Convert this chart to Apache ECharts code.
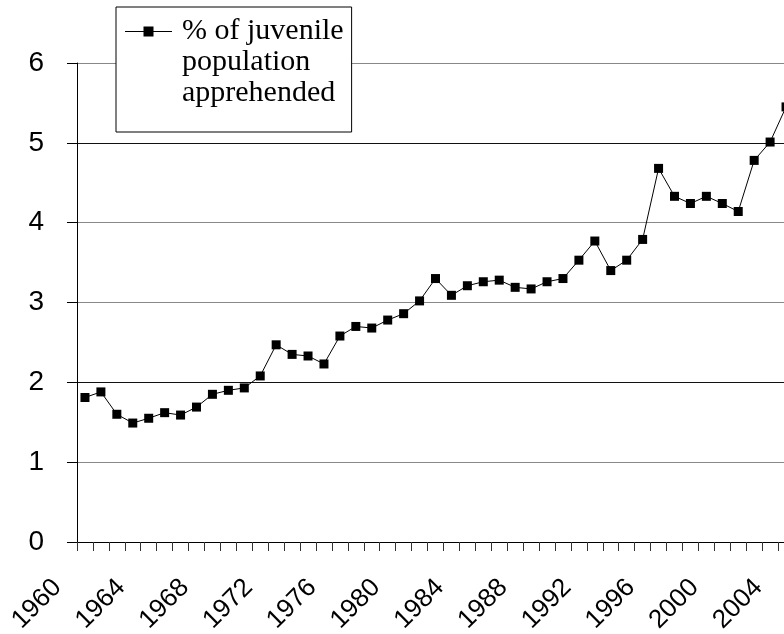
<!DOCTYPE html>
<html>
<head>
<meta charset="utf-8">
<script src="https://cdn.jsdelivr.net/npm/echarts@6/dist/echarts.min.js"></script>
<style>
  html, body { margin: 0; padding: 0; background: #fff; }
  #chart { width: 784px; height: 634px; }
</style>
</head>
<body>
<div id="chart"></div>
<script>
const SERIES_NAME = '% of juvenile\npopulation\napprehended';

const years = [
  '1960', '1961', '1962', '1963', '1964', '1965', '1966', '1967', '1968', '1969',
  '1970', '1971', '1972', '1973', '1974', '1975', '1976', '1977', '1978', '1979',
  '1980', '1981', '1982', '1983', '1984', '1985', '1986', '1987', '1988', '1989',
  '1990', '1991', '1992', '1993', '1994', '1995', '1996', '1997', '1998', '1999',
  '2000', '2001', '2002', '2003', '2004',
];
const apprehended = [
  1.81, 1.88, 1.60, 1.49, 1.55, 1.62, 1.59, 1.69, 1.85, 1.90,
  1.93, 2.08, 2.47, 2.35, 2.33, 2.23, 2.58, 2.70, 2.68, 2.78,
  2.86, 3.02, 3.30, 3.09, 3.21, 3.26, 3.28, 3.19, 3.17, 3.26,
  3.30, 3.53, 3.77, 3.40, 3.53, 3.79, 4.68, 4.33, 4.24, 4.33,
  4.24, 4.14, 4.78, 5.01, 5.45,
];
const yTicks = [0, 1, 2, 3, 4, 5, 6];

// line + square at the first text row, tiny dots keep the box 52x93
const legendIcon = 'path://M0,15L47,15L47,16L0,16Z M18.5,10.5L28.5,10.5L28.5,20.5L18.5,20.5Z M0,0L0.1,0L0.1,0.1Z M51.9,92.9L52,92.9L52,93Z';

const chart = echarts.init(document.getElementById('chart'), null, { renderer: 'canvas' });

const option = {
  animation: false,
  backgroundColor: '#fff',
  grid: {
    left: 77,
    top: 63,
    width: 717,
    height: 479,
    containLabel: false,
    outerBoundsMode: 'none',
  },
  legend: {
    data: [SERIES_NAME],
    left: 116,
    top: 7,
    orient: 'vertical',
    selectedMode: false,
    icon: legendIcon,
    itemWidth: 52,
    itemHeight: 93,
    padding: [9, 8, 23, 9],
    backgroundColor: '#fff',
    borderColor: '#000',
    borderWidth: 1,
    itemStyle: { borderWidth: 0 },
    textStyle: {
      fontFamily: 'Liberation Serif',
      fontSize: 30,
      lineHeight: 31,
      color: '#000',
    },
  },
  xAxis: {
    type: 'category',
    data: years,
    boundaryGap: true,
    axisLine: { lineStyle: { color: '#000', width: 1 } },
    axisTick: { show: true, interval: 0, length: 9, lineStyle: { color: '#333' } },
    axisLabel: {
      interval: 3,
      rotate: 45,
      margin: 14,
      padding: [0, 39, 0, 0],
      fontFamily: 'Liberation Sans',
      fontSize: 26,
      color: '#000',
    },
    splitLine: { show: false },
  },
  yAxis: {
    type: 'value',
    min: yTicks[0],
    max: yTicks[yTicks.length - 1],
    interval: 1,
    axisLine: { show: true, lineStyle: { color: '#000', width: 1 } },
    axisTick: { show: true, length: 10, lineStyle: { color: '#000' } },
    axisLabel: {
      margin: 33,
      fontFamily: 'Liberation Sans',
      fontSize: 28,
      color: '#000',
    },
    splitLine: {
      show: true,
      lineStyle: {
        color: ['#000', '#888', '#111', '#888', '#888', '#111', '#888'],
        width: 1,
      },
    },
  },
  series: [
    {
      name: SERIES_NAME,
      type: 'line',
      data: apprehended,
      symbol: 'rect',
      symbolSize: 9,
      showAllSymbol: true,
      color: '#000',
      itemStyle: { color: '#000', borderWidth: 0 },
      lineStyle: { color: '#000', width: 1 },
    },
  ],
};

chart.setOption(option);
</script>
</body>
</html>
